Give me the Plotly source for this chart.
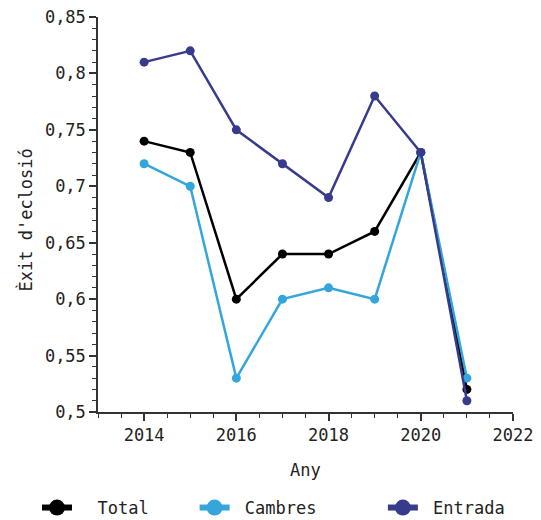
import plotly.graph_objects as go

years = [2014, 2015, 2016, 2017, 2018, 2019, 2020, 2021]
total = [0.74, 0.73, 0.60, 0.64, 0.64, 0.66, 0.73, 0.52]
cambres = [0.72, 0.70, 0.53, 0.60, 0.61, 0.60, 0.73, 0.53]
entrada = [0.81, 0.82, 0.75, 0.72, 0.69, 0.78, 0.73, 0.51]

series = [
    ("Total", total, "#000000"),
    ("Cambres", cambres, "#34a6dc"),
    ("Entrada", entrada, "#373b8c"),
]

FONT = "DejaVu Sans Mono"
NB = "\u00a0"
TXT = "#222222"

fig = go.Figure()
for name, vals, color in series:
    fig.add_trace(go.Scatter(
        x=years, y=vals, mode="lines+markers", name=name,
        line=dict(color=color, width=2.5),
        marker=dict(color=color, size=9),
        showlegend=False,
    ))
# legend entries with heavier symbols; padded labels space the row out
pads = {"Total": (2, 4), "Cambres": (1, 6), "Entrada": (1, 0)}
for name, vals, color in series:
    lead, trail = pads[name]
    fig.add_trace(go.Scatter(
        x=[None], y=[None], mode="lines+markers",
        name=NB * lead + name + NB * trail,
        line=dict(color=color, width=6),
        marker=dict(color=color, size=16),
    ))

axis_common = dict(
    showline=True, linecolor="#333333", linewidth=1.5,
    ticks="outside", ticklen=7, tickwidth=1.5, tickcolor="#333333",
    showgrid=False, zeroline=False,
    tickfont=dict(family=FONT, size=17, color=TXT),
)

fig.update_layout(
    width=541, height=520,
    margin=dict(l=98, r=28, t=17, b=108, autoexpand=False),
    plot_bgcolor="white", paper_bgcolor="white",
    separators=", ",
    font=dict(family=FONT, size=17, color=TXT),
    xaxis=dict(
        range=[2013, 2022], dtick=2, tick0=2014,
        minor=dict(dtick=0.5, ticklen=4, tickwidth=1, tickcolor="#333333", ticks="outside"),
        **axis_common,
    ),
    yaxis=dict(
        range=[0.5, 0.85], dtick=0.05, tick0=0.5,
        minor=dict(dtick=0.01, ticklen=4, tickwidth=1, tickcolor="#333333", ticks="outside"),
        **axis_common,
    ),
    legend=dict(
        orientation="h", x=-0.147, xanchor="left",
        y=-0.243, yanchor="middle",
        font=dict(family=FONT, size=17, color=TXT),
        borderwidth=0,
    ),
    annotations=[
        dict(text="Any", x=0.5, y=0, xref="paper", yref="paper",
             xanchor="center", yanchor="middle", yshift=-58, showarrow=False,
             font=dict(family=FONT, size=17, color=TXT)),
        dict(text="Èxit d'eclosió", x=0, y=0.5, xref="paper", yref="paper",
             xanchor="center", yanchor="middle", xshift=-73, yshift=-6,
             textangle=-90, showarrow=False,
             font=dict(family=FONT, size=17, color=TXT)),
    ],
)

fig.write_html("out.html")
